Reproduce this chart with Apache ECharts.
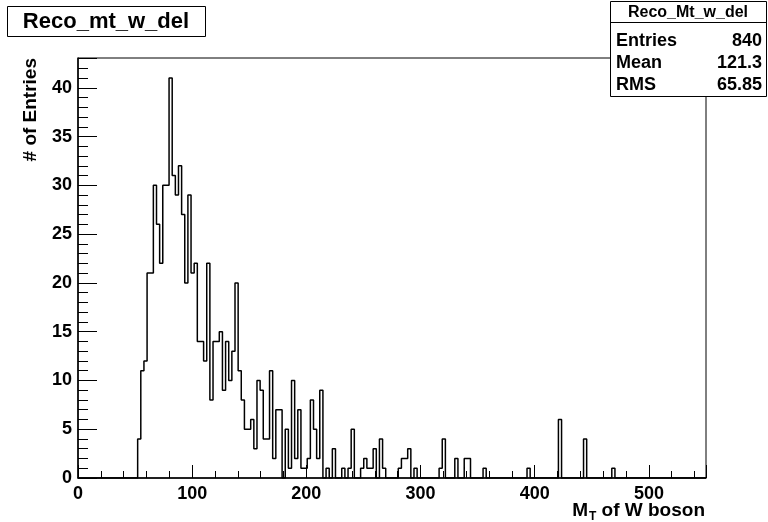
<!DOCTYPE html>
<html><head><meta charset="utf-8">
<script src="https://cdn.jsdelivr.net/npm/echarts@6/dist/echarts.min.js"></script>
<style>html,body{margin:0;padding:0;background:#fff}#c{width:768px;height:522px}</style>
</head><body><div id="c"></div>
<script>
// ---- data ----
const histTitle = 'Reco_mt_w_del';
const statsTitle = 'Reco_Mt_w_del';
const statsLabels = ['Entries', 'Mean', 'RMS'];
const statsValues = ['840', '121.3', '65.85'];
const xRange = [0, 550];
const yMax = 43.05;
const xTickLabels = [0, 100, 200, 300, 400, 500];
const yTickLabels = [0, 5, 10, 15, 20, 25, 30, 35, 40];
const xTitleMain = 'M';
const xTitleSub = 'T';
const xTitleRest = 'of W boson';
const yTitle = '# of Entries';
// 200 bins of width 2.75, rows of 10
const counts = [
  0,0,0,0,0,0,0,0,0,0,
  0,0,0,0,0,0,0,0,0,4,
  11,12,21,21,30,26,22,30,30,41,
  31,29,32,27,20,29,21,22,14,14,
  12,22,8,14,14,15,9,14,10,13,
  20,11,8,5,5,6,3,10,9,4,
  4,11,2,7,7,0,5,1,10,2,
  7,1,1,2,8,5,2,9,0,1,
  0,3,0,0,1,0,1,5,0,0,
  1,2,1,1,3,0,4,1,0,0,
  0,0,1,2,2,3,0,1,0,0,
  0,0,0,0,0,1,4,0,0,0,
  2,0,0,2,2,0,0,0,0,1,
  0,0,0,0,0,0,0,0,0,0,
  0,0,0,1,0,0,0,0,0,0,
  0,0,0,6,0,0,0,0,0,0,
  0,4,0,0,0,0,0,0,0,0,
  1,0,0,0,0,0,0,0,0,0,
  0,0,0,0,0,0,0,0,0,0,
  0,0,0,0,0,0,0,0,0,0
];

// ---- build ----
const binWidth = (xRange[1] - xRange[0]) / counts.length;
const stepData = counts.map((c, i) => [xRange[0] + i * binWidth, c]);
stepData.push([xRange[1], counts[counts.length - 1]]);

const FF = "'Liberation Sans', Arial, Helvetica, sans-serif";
const black = '#000';
const lbl = {fontFamily: FF, fontWeight: 'bold', color: black};

const chart = echarts.init(document.getElementById('c'), null, {renderer: 'canvas'});

const graphic = [
  // title box
  {type: 'rect', shape: {x: 7.5, y: 6.5, width: 198, height: 30},
   style: {fill: '#fff', stroke: black, lineWidth: 1}, z: 10},
  {type: 'text', x: 106, y: 22, z: 11,
   style: Object.assign({text: histTitle, fontSize: 22, align: 'center', verticalAlign: 'middle', fill: black}, lbl)},
  // stats box
  {type: 'rect', shape: {x: 610.5, y: 1.5, width: 156, height: 95},
   style: {fill: '#fff', stroke: black, lineWidth: 1}, z: 10},
  {type: 'line', shape: {x1: 610.5, y1: 22.5, x2: 766.5, y2: 22.5},
   style: {stroke: black, lineWidth: 1}, z: 11},
  {type: 'text', x: 688, y: 12.5, z: 11,
   style: Object.assign({text: statsTitle, fontSize: 16, align: 'center', verticalAlign: 'middle', fill: black}, lbl)},
  // y axis title
  {type: 'text', x: 31, y: 58, rotation: Math.PI / 2, z: 11,
   style: Object.assign({text: yTitle, fontSize: 19, align: 'right', verticalAlign: 'middle', fill: black}, lbl)},
  // x axis title
  {type: 'text', x: 588, y: 511, z: 11,
   style: Object.assign({text: xTitleMain, fontSize: 19, align: 'right', verticalAlign: 'middle', fill: black}, lbl)},
  {type: 'text', x: 589, y: 517, z: 11,
   style: Object.assign({text: xTitleSub, fontSize: 12, align: 'left', verticalAlign: 'middle', fill: black}, lbl)},
  {type: 'text', x: 705, y: 511, z: 11,
   style: Object.assign({text: xTitleRest, fontSize: 19, align: 'right', verticalAlign: 'middle', fill: black}, lbl)}
];
const rowY = [41, 63, 85];
statsLabels.forEach((s, i) => {
  graphic.push({type: 'text', x: 616, y: rowY[i], z: 11,
    style: Object.assign({text: s, fontSize: 18, align: 'left', verticalAlign: 'middle', fill: black}, lbl)});
  graphic.push({type: 'text', x: 762, y: rowY[i], z: 11,
    style: Object.assign({text: statsValues[i], fontSize: 18, align: 'right', verticalAlign: 'middle', fill: black}, lbl)});
});

chart.setOption({
  animation: false,
  backgroundColor: '#fff',
  grid: {left: 78, top: 58, width: 628, height: 420, show: true, borderColor: black, borderWidth: 1, backgroundColor: '#fff'},
  xAxis: [
    {type: 'value', min: xRange[0], max: xRange[1], interval: 100,
     axisLine: {show: true, lineStyle: {color: black, width: 1.5}},
     axisTick: {show: true, inside: true, length: 13, lineStyle: {color: black, width: 1}},
     axisLabel: Object.assign({fontSize: 18, margin: 7,
       formatter: v => xTickLabels.includes(v) ? String(v) : ''}, lbl),
     splitLine: {show: false}},
    {type: 'value', min: xRange[0], max: xRange[1], interval: 20, position: 'bottom',
     axisLine: {show: false},
     axisTick: {show: true, inside: true, length: 7, lineStyle: {color: black, width: 1}},
     axisLabel: {show: false}, splitLine: {show: false}}
  ],
  yAxis: [
    {type: 'value', min: 0, max: yMax, interval: 5,
     axisLine: {show: true, lineStyle: {color: black, width: 1.5}},
     axisTick: {show: true, inside: true, length: 19, lineStyle: {color: black, width: 1}},
     axisLabel: Object.assign({fontSize: 18, margin: 6,
       formatter: v => yTickLabels.includes(v) ? String(v) : ''}, lbl),
     splitLine: {show: false}},
    {type: 'value', min: 0, max: yMax, interval: 1, position: 'left',
     axisLine: {show: false},
     axisTick: {show: true, inside: true, length: 10, lineStyle: {color: black, width: 1}},
     axisLabel: {show: false}, splitLine: {show: false}}
  ],
  series: [{
    type: 'line', step: 'end', data: stepData, xAxisIndex: 0, yAxisIndex: 0,
    showSymbol: false, symbol: 'none', clip: true,
    lineStyle: {color: black, width: 1.5}
  }],
  graphic: graphic
});
</script>
</body></html>
